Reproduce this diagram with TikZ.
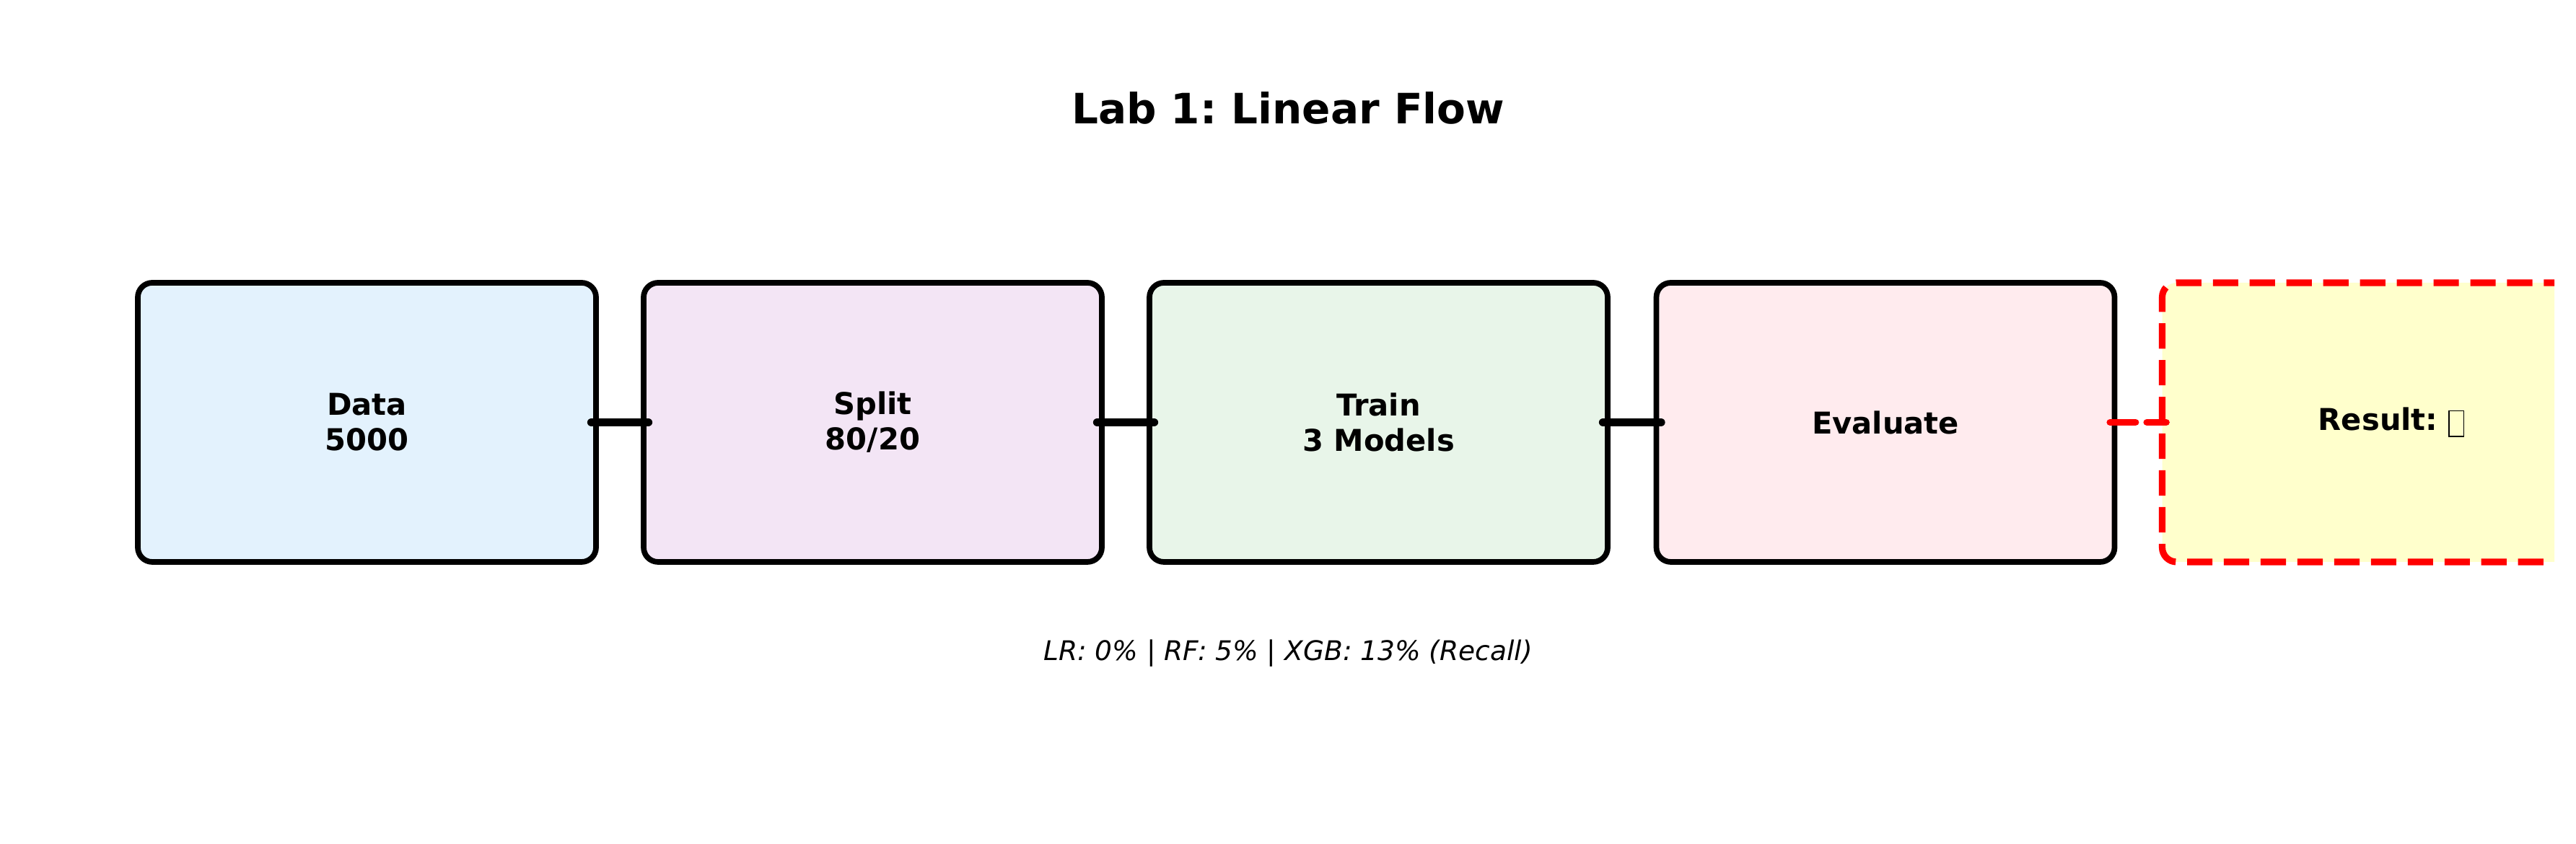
\documentclass[tikz,border=0pt]{standalone}
\usepackage{fontspec}
\setmainfont{DejaVu Sans}
\usepackage{tikz}
\usetikzlibrary{positioning}
\definecolor{dataBlue}{HTML}{E3F2FD}
\definecolor{splitPurple}{HTML}{F3E5F5}
\definecolor{trainGreen}{HTML}{E8F5E9}
\definecolor{evalPink}{HTML}{FFEBEE}
\definecolor{resultYellow}{HTML}{FFFFCC}
% empty glyph box as printed in the result stage
\newcommand{\tofubox}{\raisebox{-2pt}{\fboxsep=0pt\fboxrule=0.45pt\fbox{\rule{0pt}{9.6pt}\hspace{5.4pt}}}}
\frenchspacing

\begin{document}
\begin{tikzpicture}
  % Define overall style for the flow
  \tikzset{
    stage/.style={
      draw=black,
      rounded corners=0.2cm,
      minimum width=6.35cm,
      minimum height=3.87cm,
      line width=2.2pt,
      align=center,
      font=\bfseries\fontsize{11.85}{13.9}\selectfont
    },
    link/.style={
      draw=black,
      line width=3.4pt,
      line cap=round,
      shorten <=-0.1cm,
      shorten >=-0.1cm
    },
    resultlink/.style={
      link,
      draw=red,
      line width=2.8pt,
      dash pattern=on 10pt off 4.5pt
    }
  }
  \useasboundingbox (0,0) rectangle (35.7,11.7);
  \clip (0,0) rectangle (35.4,11.7);

  % Title and note
  \node[font=\bfseries\fontsize{16.5}{19.8}\selectfont] (title) at (17.85,10.2) {Lab 1: Linear Flow};
  \node[font=\itshape\fontsize{10.67}{12.8}\selectfont] (note) at (17.85,2.64) {LR: 0\% | RF: 5\% | XGB: 13\% (Recall)};

  % Stages along one row
  \node[stage, fill=dataBlue] (data) at (5.085,5.845) {Data\\5000};
  \node[stage, fill=splitPurple] (split) at (12.095,5.845) {Split\\80/20};
  \node[stage, fill=trainGreen] (train) at (19.105,5.845) {Train\\3 Models};
  \node[stage, fill=evalPink] (evaluate) at (26.13,5.845) {Evaluate};
  \node[stage, fill=resultYellow, draw=red, line width=2.6pt,
        dash pattern=on 10pt off 4.5pt] (result) at (33.14,5.845) {Result: \tofubox};

  % Draw the links
  \foreach \a/\b in {data/split, split/train, train/evaluate} {
    \draw[link] (\a.east) -- (\b.west);
  }
  \draw[resultlink] (evaluate.east) -- (result.west);
\end{tikzpicture}
\end{document}
